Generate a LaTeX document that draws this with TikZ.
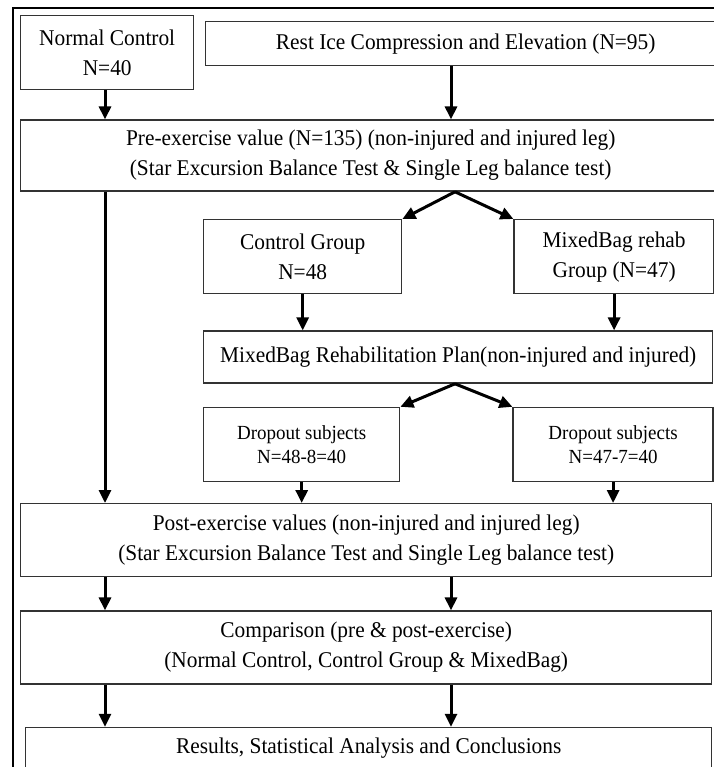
\documentclass[tikz,border=0pt]{standalone}
\usepackage{fontspec}
\setmainfont{Liberation Serif}[FakeStretch=0.95]
\usepackage{tikz}
\usetikzlibrary{positioning,arrows.meta}
\tikzstyle{box} = [draw=black!80, line width=1.4pt, rectangle, anchor=north west,
inner sep=0pt, align=center, font=\fontsize{22.5}{30}\selectfont]
\tikzstyle{smallbox} = [box, font=\fontsize{20}{24}\selectfont]
\tikzstyle{flow} = [line width=3pt, ->]

\begin{document}
\begin{tikzpicture}[>={Triangle[length=13pt,width=12pt]}, x=1pt, y=1pt]
	\useasboundingbox (0,0) rectangle (713,-767);
	% outer frame, its right and lower sides run off the page
	\draw [line width=2.8pt] (13,-8) rectangle (730,-790);
	% columns the straight arrows run along
	\coordinate (colA) at (105,0);
	\coordinate (colB) at (451,0);
	\coordinate (colC) at (455,0);
	% We start by placing the blocks
	\node [box, minimum width=173pt, minimum height=74pt] (normal) at (20,-15)
	{Normal Control\\N=40};
	\node [box, minimum width=520pt, minimum height=44pt] (rice) at (205,-21)
	{Rest Ice Compression and Elevation (N=95)};
	\node [box, below=29pt of normal.south west, anchor=north west,
	minimum width=700pt, minimum height=71pt] (pre)
	{Pre-exercise value (N=135) (non-injured and injured leg)\\
	(Star Excursion Balance Test \& Single Leg balance test)};
	\node [box, minimum width=198pt, minimum height=74pt] (control) at (203,-219)
	{Control Group\\N=48};
	\node [box, right=111pt of control.north east, anchor=north west,
	minimum width=200pt, minimum height=74pt] (mixed)
	{MixedBag rehab\\Group (N=47)};
	\node [box, below=36pt of control.south west, anchor=north west,
	minimum width=509pt, minimum height=52pt] (plan)
	{MixedBag Rehabilitation Plan(non-injured and injured)};
	\node [smallbox, below=23pt of plan.south west, anchor=north west,
	minimum width=196pt, minimum height=74pt] (dropA)
	{Dropout subjects\\N=48-8=40};
	\node [smallbox, right=112pt of dropA.north east, anchor=north west,
	minimum width=200pt, minimum height=74pt] (dropB)
	{Dropout subjects\\N=47-7=40};
	\node [box, minimum width=691pt, minimum height=73pt] (post) at (20,-503)
	{Post-exercise values (non-injured and injured leg)\\
	(Star Excursion Balance Test and Single Leg balance test)};
	\node [box, below=33pt of post.south west, anchor=north west,
	minimum width=691pt, minimum height=73pt] (compare)
	{Comparison (pre \& post-exercise)\\
	(Normal Control, Control Group \& MixedBag)};
	\node [box, below=42pt of compare.south west, anchor=north west, xshift=5pt,
	minimum width=686pt, minimum height=42pt] (results)
	{Results, Statistical Analysis and Conclusions};
	
	% Once the nodes are placed, connecting them is easy.
	\draw [flow] (normal.south -| colA) -- (pre.north -| colA);
	\draw [flow] (rice.south -| colB) -- (pre.north -| colB);
	\draw [flow] (pre.south -| colA) -- (post.north -| colA);
	\draw [flow] (pre.south -| colC) -- (control.north east);
	\draw [flow] (pre.south -| colC) -- (mixed.north west);
	\draw [flow] (control.south) -- (control.south |- plan.north);
	\draw [flow] (mixed.south) -- (mixed.south |- plan.north);
	\draw [flow] (plan.south -| colC) -- (dropA.north east);
	\draw [flow] (plan.south -| colC) -- (dropB.north west);
	\draw [flow] (dropA.south) -- (dropA.south |- post.north);
	\draw [flow] (dropB.south) -- (dropB.south |- post.north);
	\draw [flow] (post.south -| colA) -- (compare.north -| colA);
	\draw [flow] (post.south -| colB) -- (compare.north -| colB);
	\draw [flow] (compare.south -| colA) -- (results.north -| colA);
	\draw [flow] (compare.south -| colB) -- (results.north -| colB);
\end{tikzpicture}
\end{document}
